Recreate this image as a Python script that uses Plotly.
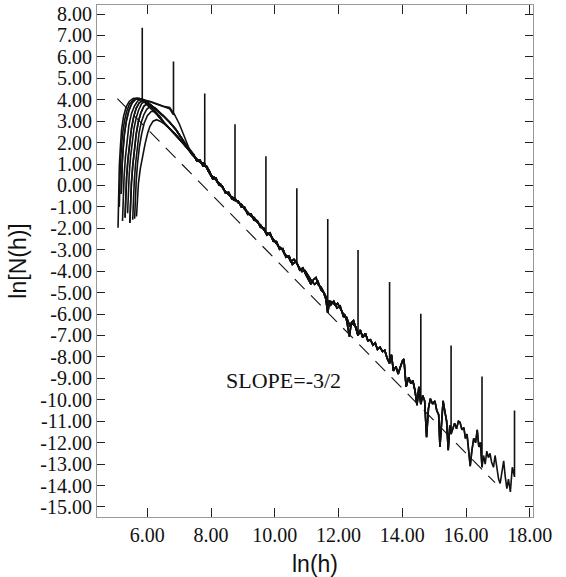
import plotly.graph_objects as go

# ---------------- data ----------------
x_ticks = [6, 8, 10, 12, 14, 16, 18]
y_ticks = list(range(-15, 9))

# reference line of slope -3/2
slope_x = [5.06, 16.91]
slope_y = [4.05, -13.87]

# end spikes of each curve (x position, curve value, top of spike)
spike_x = [5.84, 6.82, 7.80, 8.75, 9.72, 10.69, 11.66, 12.61, 13.60, 14.58, 15.53, 16.50, 17.52]
spike_base = [4.02, 3.30, 1.05, -0.62, -2.20, -3.60, -5.95, -7.00, -8.30, -10.20, -11.60, -13.15, -13.60]
spike_top = [7.36, 5.78, 4.29, 2.85, 1.36, -0.13, -1.57, -3.01, -4.50, -5.99, -7.47, -8.92, -10.50]

# rising heads of the curves (left fan)
head0_x = [5.08, 5.09, 5.10, 5.12, 5.15, 5.19, 5.25, 5.33, 5.43, 5.55, 5.68, 5.80, 5.95, 6.10, 6.30, 6.50, 6.70, 6.85, 7.00, 7.15, 7.30]
head0_y = [-1.97, -1.0, 0.0, 0.9, 1.7, 2.6, 3.2, 3.65, 3.92, 4.06, 4.08, 4.03, 3.97, 3.88, 3.78, 3.70, 3.62, 3.30, 2.85, 2.30, 1.75]
head1_x = [5.12, 5.13, 5.15, 5.18, 5.22, 5.28, 5.35, 5.44, 5.55, 5.67, 5.80, 5.95, 6.10, 6.30, 6.50, 6.70, 6.85, 7.00, 7.15, 7.30]
head1_y = [-1.0, -0.1, 0.8, 1.6, 2.4, 3.0, 3.45, 3.80, 3.98, 4.05, 4.04, 3.98, 3.90, 3.76, 3.66, 3.58, 3.35, 2.90, 2.35, 1.78]
head2_x = [5.18, 5.19, 5.21, 5.24, 5.28, 5.34, 5.42, 5.52, 5.63, 5.75, 5.90, 6.10, 6.30, 6.50, 6.70, 6.90, 7.10, 7.30]
head2_y = [-0.4, 0.3, 1.0, 1.7, 2.4, 3.0, 3.5, 3.85, 4.02, 4.05, 3.95, 3.75, 3.50, 3.25, 2.95, 2.60, 2.15, 1.70]
head3_x = [5.22, 5.24, 5.27, 5.31, 5.36, 5.42, 5.50, 5.60, 5.70, 5.80, 5.90, 6.10, 6.30, 6.50, 6.70, 6.90, 7.10, 7.30]
head3_y = [-1.66, -0.6, 0.4, 1.3, 2.1, 2.8, 3.35, 3.72, 3.95, 4.00, 3.90, 3.60, 3.30, 2.95, 2.65, 2.35, 2.00, 1.65]
head4_x = [5.30, 5.32, 5.35, 5.39, 5.44, 5.50, 5.57, 5.65, 5.74, 5.85, 6.00, 6.15, 6.30, 6.50, 6.70, 6.90, 7.10, 7.30]
head4_y = [-1.5, -0.5, 0.4, 1.2, 2.0, 2.65, 3.2, 3.6, 3.85, 3.96, 3.90, 3.72, 3.52, 3.25, 2.95, 2.60, 2.15, 1.70]
head5_x = [5.38, 5.40, 5.43, 5.47, 5.52, 5.58, 5.65, 5.72, 5.82, 5.95, 6.10, 6.30, 6.50, 6.70, 6.85, 7.00, 7.15, 7.30]
head5_y = [-1.3, -0.4, 0.5, 1.3, 2.0, 2.65, 3.15, 3.50, 3.82, 3.95, 3.92, 3.80, 3.70, 3.64, 3.32, 2.88, 2.32, 1.76]
head6_x = [5.45, 5.47, 5.50, 5.54, 5.59, 5.65, 5.72, 5.80, 5.89, 6.00, 6.15, 6.30, 6.50, 6.70, 6.90, 7.10, 7.30]
head6_y = [-1.75, -0.8, 0.1, 0.9, 1.7, 2.4, 3.0, 3.40, 3.70, 3.82, 3.62, 3.32, 2.97, 2.66, 2.36, 2.00, 1.65]
head7_x = [5.54, 5.56, 5.59, 5.63, 5.68, 5.74, 5.81, 5.89, 5.98, 6.10, 6.25, 6.40, 6.55, 6.70, 6.90, 7.10, 7.30]
head7_y = [-1.6, -0.7, 0.2, 1.0, 1.8, 2.45, 2.95, 3.30, 3.55, 3.70, 3.62, 3.40, 3.15, 2.95, 2.60, 2.15, 1.70]
head8_x = [5.60, 5.62, 5.65, 5.69, 5.75, 5.82, 5.90, 6.00, 6.12, 6.25, 6.40, 6.55, 6.70, 6.90, 7.10, 7.30]
head8_y = [-1.55, -0.7, 0.2, 1.0, 1.8, 2.4, 2.9, 3.25, 3.45, 3.45, 3.22, 2.88, 2.65, 2.35, 2.00, 1.65]
head9_x = [5.66, 5.68, 5.72, 5.78, 5.85, 5.93, 6.01, 6.08, 6.18, 6.29, 6.40, 6.55, 6.70, 6.90, 7.10, 7.30]
head9_y = [-1.45, -0.7, 0.1, 0.8, 1.4, 1.95, 2.45, 2.76, 3.00, 3.07, 3.00, 2.85, 2.65, 2.35, 2.00, 1.65]

# which head each of the 13 curves starts with
curve_head = [0, 1, 2, 3, 4, 5, 6, 7, 8, 9, 2, 4, 6]

# common noisy tail shared by the curves
main_x = [7.40, 7.50, 7.60, 7.70, 7.80, 7.90, 8.00, 8.10, 8.20, 8.30, 8.40, 8.50, 8.60, 8.75, 8.85, 8.95,
          9.05, 9.15, 9.25, 9.35, 9.45, 9.55, 9.65, 9.72, 9.82, 9.92, 10.02, 10.12, 10.22, 10.32, 10.42,
          10.50, 10.60, 10.69, 10.78, 10.88, 10.97, 11.05, 11.13, 11.21, 11.29, 11.37, 11.45, 11.52, 11.60,
          11.66, 11.72, 11.81, 11.90, 11.97, 12.05, 12.13, 12.20, 12.26, 12.34, 12.40, 12.47, 12.54, 12.61,
          12.68, 12.76, 12.84, 12.92, 13.00, 13.08, 13.15, 13.22, 13.30, 13.38, 13.45, 13.52, 13.60, 13.66,
          13.72, 13.80, 13.87, 13.93, 14.00, 14.05, 14.12, 14.20, 14.27, 14.33, 14.40, 14.46, 14.52, 14.58,
          14.64, 14.70, 14.76, 14.82, 14.88, 14.95, 15.02, 15.08, 15.14, 15.18, 15.23, 15.28, 15.34, 15.39,
          15.44, 15.49, 15.53, 15.58, 15.64, 15.70, 15.76, 15.81, 15.87, 15.93, 15.98, 16.03, 16.08, 16.13,
          16.18, 16.24, 16.30, 16.35, 16.40, 16.45, 16.50, 16.55, 16.60, 16.65, 16.70, 16.75, 16.80, 16.86,
          16.91, 16.96, 17.02, 17.07, 17.12, 17.18, 17.23, 17.28, 17.33, 17.39, 17.45, 17.52]
main_y = [1.45, 1.30, 1.15, 1.05, 1.00, 0.70, 0.45, 0.38, 0.15, 0.05, -0.20, -0.35, -0.50, -0.62, -0.80, -0.88,
          -1.10, -1.25, -1.43, -1.50, -1.72, -1.85, -2.05, -2.20, -2.25, -2.44, -2.65, -2.85, -2.95, -3.25, -3.30,
          -3.55, -3.45, -3.60, -3.95, -3.85, -4.15, -4.35, -4.60, -4.40, -4.30, -4.65, -4.75, -4.95, -5.30,
          -5.95, -5.40, -5.45, -5.60, -5.50, -5.70, -5.95, -6.05, -6.35, -7.05, -6.40, -6.30, -6.60, -7.00,
          -6.75, -7.10, -6.90, -7.25, -7.20, -7.45, -7.35, -7.65, -7.55, -7.75, -7.70, -8.05, -8.30, -7.90,
          -8.65, -8.45, -8.80, -8.50, -8.20, -8.10, -9.40, -8.95, -9.25, -9.10, -9.60, -10.25, -9.40, -10.20,
          -9.80, -10.05, -11.75, -10.40, -9.95, -10.20, -10.05, -10.50, -10.70, -12.20, -10.90, -10.05, -10.60, -11.00,
          -12.35, -11.20, -11.60, -11.40, -11.10, -11.35, -11.00, -11.05, -11.40, -11.30, -11.80, -11.60, -12.30, -13.10,
          -12.40, -11.80, -12.00, -11.40, -12.20, -12.00, -13.15, -12.60, -13.00, -12.40, -12.70, -12.50, -12.90, -13.15,
          -12.60, -13.20, -13.70, -13.90, -13.30, -12.85, -13.60, -14.15, -13.70, -14.30, -13.15, -13.60]

# second, slightly different noisy tail followed by the odd-numbered curves up to x = 12.5
tail_b_x = [7.45, 7.55, 7.65, 7.75, 7.85, 7.95, 8.05, 8.15, 8.25, 8.35, 8.45, 8.55, 8.65, 8.75, 8.85, 8.95,
            9.05, 9.15, 9.25, 9.35, 9.45, 9.55, 9.65, 9.75, 9.85, 9.95, 10.05, 10.15, 10.25, 10.35, 10.45,
            10.55, 10.65, 10.75, 10.85, 10.95, 11.05, 11.15, 11.25, 11.35, 11.45, 11.55, 11.65, 11.75, 11.85,
            11.95, 12.05, 12.15, 12.25, 12.35, 12.45]
tail_b_y = [1.45, 1.15, 1.18, 0.90, 0.92, 0.66, 0.30, 0.35, 0.02, -0.02, -0.35, -0.32, -0.62, -0.70, -0.72, -1.00,
            -1.02, -1.35, -1.33, -1.62, -1.65, -1.95, -1.98, -2.32, -2.22, -2.60, -2.62, -2.98, -2.95, -3.35, -3.30,
            -3.68, -3.55, -3.80, -4.02, -3.98, -4.25, -4.45, -4.62, -4.48, -4.88, -5.02, -5.35, -5.58, -5.40,
            -5.72, -5.62, -6.12, -6.15, -6.55, -6.45]
tail_b_end = 12.5

heads = [(head0_x, head0_y), (head1_x, head1_y), (head2_x, head2_y), (head3_x, head3_y),
         (head4_x, head4_y), (head5_x, head5_y), (head6_x, head6_y), (head7_x, head7_y),
         (head8_x, head8_y), (head9_x, head9_y)]

fig = go.Figure()

for i in range(len(spike_x)):
    hx, hy = heads[curve_head[i]]
    xs = [x for x in hx if x < spike_x[i]]
    ys = list(hy[:len(xs)])
    last = xs[-1]
    if i % 2 == 1:
        for x, y in zip(tail_b_x, tail_b_y):
            if last < x < spike_x[i]:
                xs.append(x)
                ys.append(y)
        last = max(last, tail_b_end)
    for x, y in zip(main_x, main_y):
        if last < x < spike_x[i]:
            xs.append(x)
            ys.append(y)
    xs += [spike_x[i], spike_x[i]]
    ys += [spike_base[i], spike_top[i]]
    fig.add_trace(go.Scatter(x=xs, y=ys, mode="lines",
                             line=dict(color="#111111", width=1.6),
                             showlegend=False, hoverinfo="skip"))

fig.add_trace(go.Scatter(x=slope_x, y=slope_y, mode="lines",
                         line=dict(color="#111111", width=1.1, dash="14px,9px"),
                         showlegend=False, hoverinfo="skip"))

tick_font = dict(family="Liberation Serif", size=20, color="#111111")

fig.update_layout(
    width=566, height=577,
    margin=dict(l=97, r=33, t=3, b=60),
    paper_bgcolor="white", plot_bgcolor="white",
    xaxis=dict(range=[4.42, 18.1], tickvals=x_ticks, ticktext=[f"{v:.2f}" for v in x_ticks],
               ticks="inside", ticklen=9, tickwidth=1, tickcolor="#222222",
               showline=True, linecolor="#999999", linewidth=1.2, mirror="ticks",
               showgrid=False, zeroline=False, tickfont=tick_font),
    yaxis=dict(range=[-15.47, 8.42], tickvals=y_ticks, ticktext=[f"{v:.2f}" for v in y_ticks],
               ticks="inside", ticklen=8, tickwidth=1, tickcolor="#222222",
               showline=True, linecolor="#999999", linewidth=1.2, mirror="ticks",
               showgrid=False, zeroline=False, tickfont=tick_font),
    annotations=[
        dict(text="ln(h)", xref="paper", yref="paper", x=0.5, y=-0.092,
             xanchor="center", yanchor="middle", showarrow=False,
             font=dict(family="Liberation Sans", size=23, color="#111111")),
        dict(text="ln[N(h)]", xref="paper", yref="paper", x=-0.182, y=0.5,
             xanchor="center", yanchor="middle", textangle=-90, showarrow=False,
             font=dict(family="Liberation Sans", size=23, color="#111111")),
        dict(text="SLOPE=-3/2", xref="x", yref="y", x=10.27, y=-9.1,
             xanchor="center", yanchor="middle", showarrow=False,
             font=dict(family="Liberation Serif", size=22, color="#111111")),
    ],
)

fig.write_html("out.html", config={"displayModeBar": False},
               post_script="document.body.style.margin='0px';")
